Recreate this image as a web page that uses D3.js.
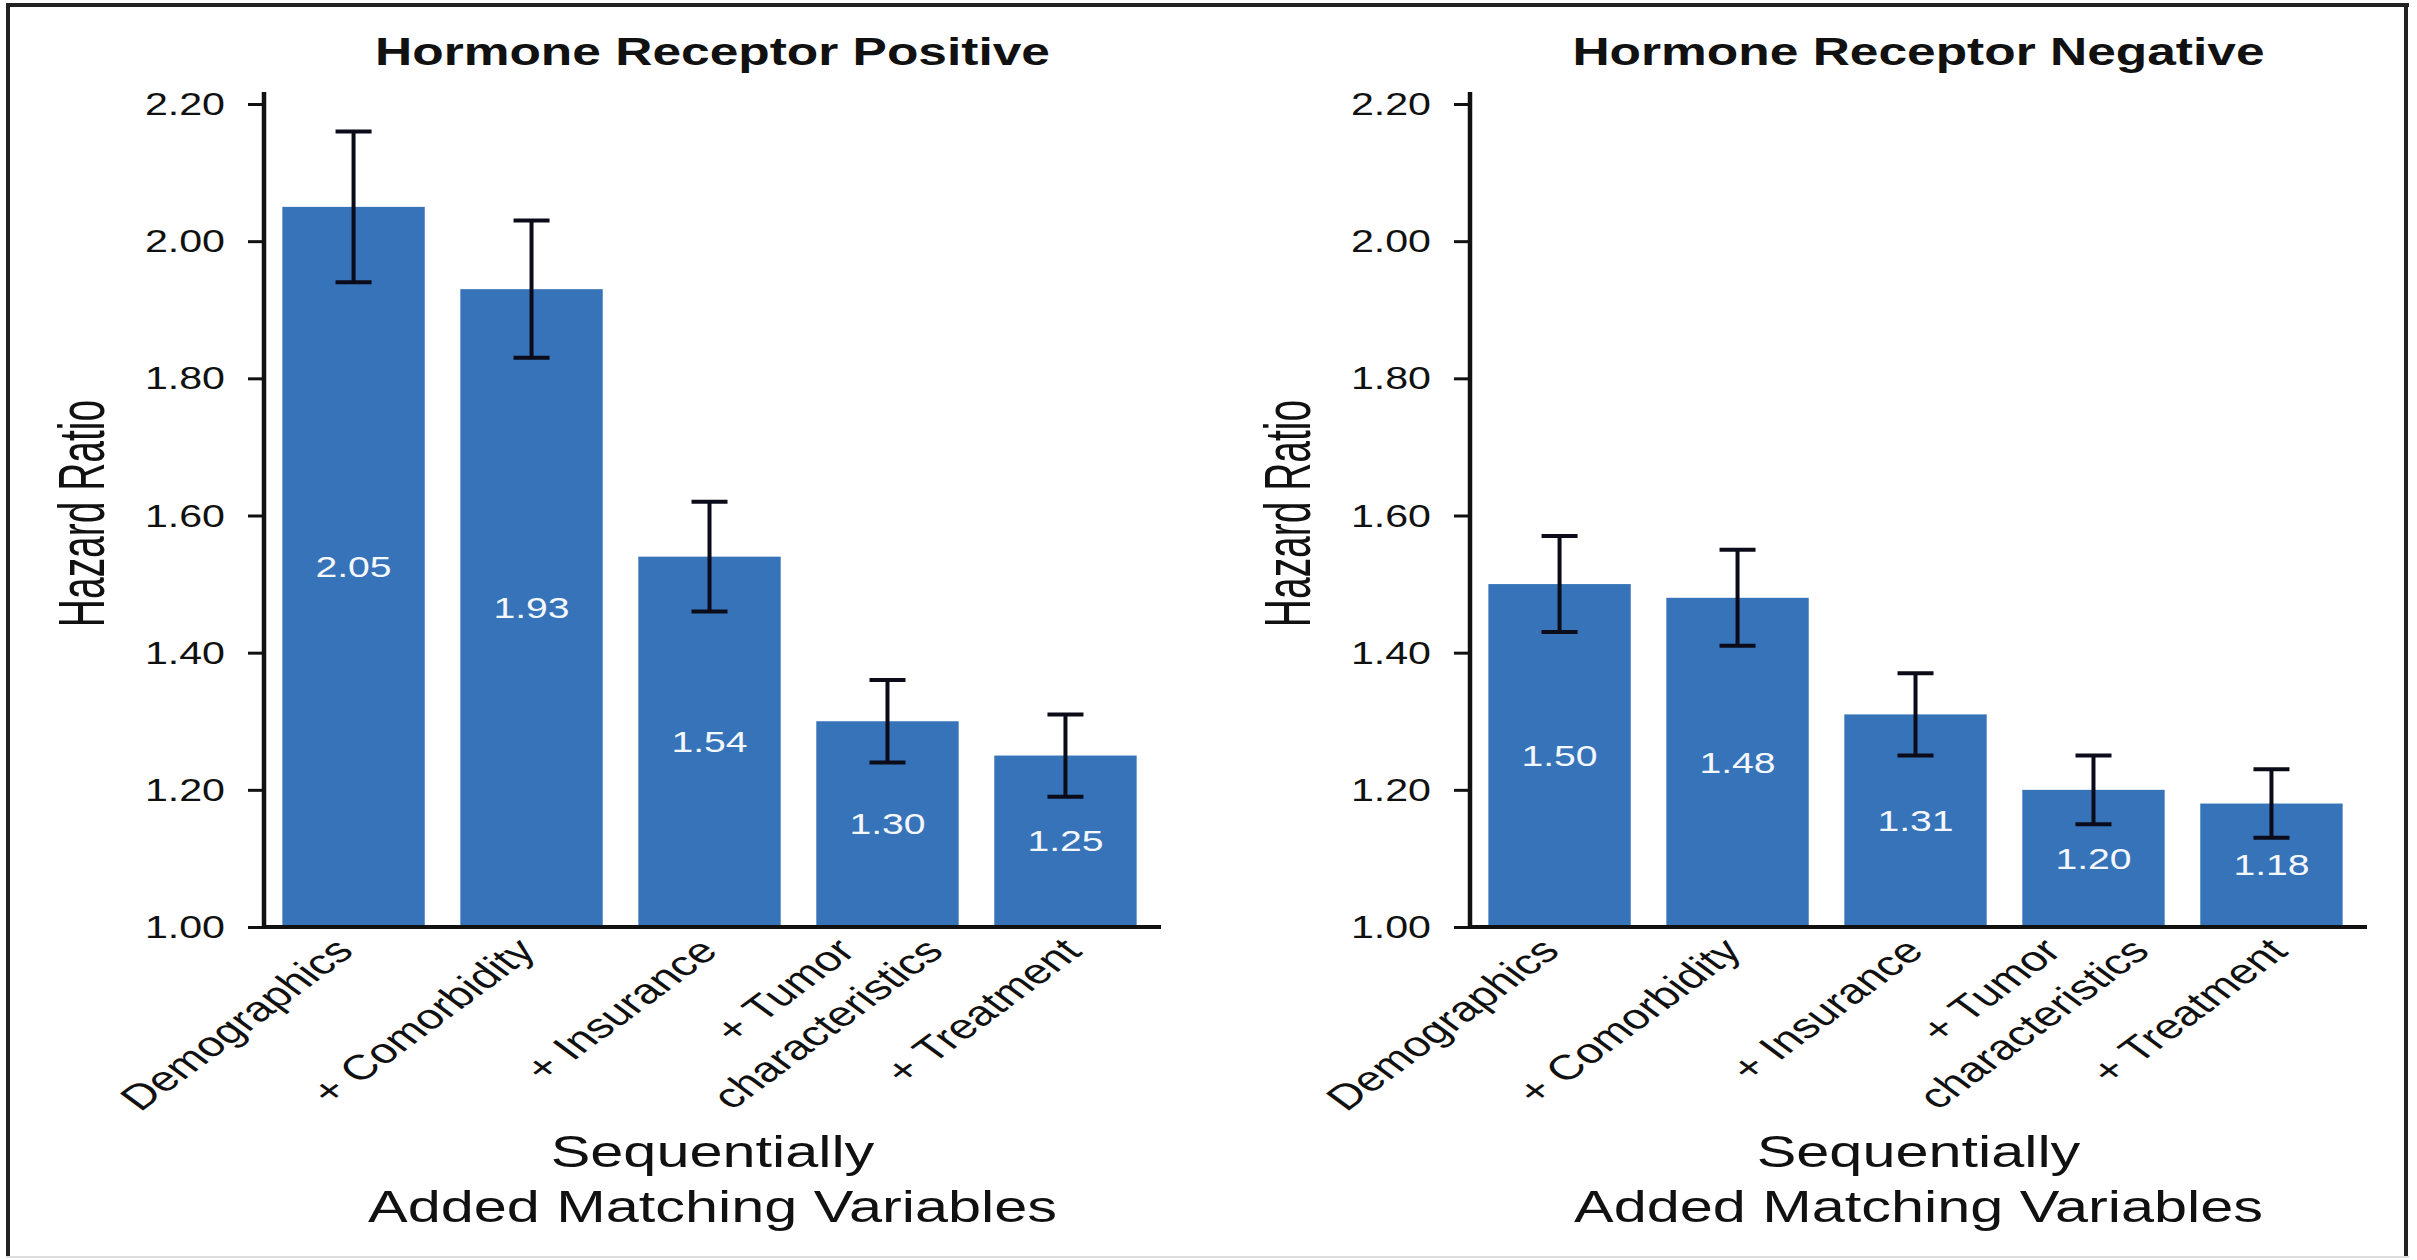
<!DOCTYPE html>
<html>
<head>
<meta charset="utf-8">
<script src="https://cdn.jsdelivr.net/npm/d3@7"></script>
<style>
  html, body { margin: 0; padding: 0; background: #ffffff; }
  svg { display: block; }
  text { font-family: "Liberation Sans", Arial, Helvetica, sans-serif; }
</style>
</head>
<body>
<svg id="chart" width="2417" height="1260"></svg>
<script>
// ---------------- DATA ----------------
const categories = ["Demographics", "+ Comorbidity", "+ Insurance", "+ Tumor characteristics", "+ Treatment"];
const categoryLines = [["Demographics"], ["+ Comorbidity"], ["+ Insurance"], ["+ Tumor", "characteristics"], ["+ Treatment"]];
const panelTitles = ["Hormone Receptor Positive", "Hormone Receptor Negative"];
const hrPositive = [2.05, 1.93, 1.54, 1.30, 1.25];
const ciLowPositive = [1.94, 1.83, 1.46, 1.24, 1.19];
const ciHighPositive = [2.16, 2.03, 1.62, 1.36, 1.31];
const hrNegative = [1.50, 1.48, 1.31, 1.20, 1.18];
const ciLowNegative = [1.43, 1.41, 1.25, 1.15, 1.13];
const ciHighNegative = [1.57, 1.55, 1.37, 1.25, 1.23];
const yTicks = [1.00, 1.20, 1.40, 1.60, 1.80, 2.00, 2.20];
const yDomain = [1.00, 2.20];
const yAxisTitle = "Hazard Ratio";
const xAxisTitleLines = ["Sequentially", "Added Matching Variables"];

// ---------------- STYLE / LAYOUT ----------------
const W = 2417, H = 1260;
const K = 1.35;            // horizontal stretch of the original artwork
const BAR = "#3673b9";
const INK = "#111111";
const panelOffsets = [0, 1206];
const axisLeftX = 264, axisRightX = 1161;
const yTop = 104, yBottom = 927;

const svg = d3.select("#chart");
svg.append("rect").attr("width", W).attr("height", H).attr("fill", "#fff");

// frame
svg.append("line").attr("x1", 6).attr("x2", 2409).attr("y1", 5).attr("y2", 5).attr("stroke", "#222").attr("stroke-width", 4);
svg.append("line").attr("x1", 8).attr("x2", 8).attr("y1", 3).attr("y2", 1258).attr("stroke", "#222").attr("stroke-width", 4);
svg.append("line").attr("x1", 2406).attr("x2", 2406).attr("y1", 3).attr("y2", 1258).attr("stroke", "#222").attr("stroke-width", 4);
svg.append("line").attr("x1", 6).attr("x2", 2409).attr("y1", 1257).attr("y2", 1257).attr("stroke", "#ddd").attr("stroke-width", 2);

const panels = [
  { title: panelTitles[0], hr: hrPositive, lo: ciLowPositive, hi: ciHighPositive },
  { title: panelTitles[1], hr: hrNegative, lo: ciLowNegative, hi: ciHighNegative }
];

panels.forEach((p, pi) => {
  const off = panelOffsets[pi];
  const g = svg.append("g");
  const x = d3.scaleBand().domain(categories)
    .range([axisLeftX + off, axisRightX + off])
    .paddingInner(0.2).paddingOuter(0.12).align(0.43);
  const y = d3.scaleLinear().domain(yDomain).range([yBottom, yTop]);
  const data = categories.map((c, i) => ({ c, lines: categoryLines[i], v: p.hr[i], lo: p.lo[i], hi: p.hi[i], i }));

  // bars
  g.selectAll("rect.bar").data(data).enter().append("rect")
    .attr("class", "bar")
    .attr("x", d => x(d.c))
    .attr("width", x.bandwidth())
    .attr("y", d => y(d.v))
    .attr("height", d => y(yDomain[0]) - y(d.v))
    .attr("fill", BAR);

  // value labels
  g.selectAll("text.val").data(data).enter().append("text")
    .attr("class", "val")
    .attr("transform", d => `translate(${x(d.c) + x.bandwidth() / 2},${(y(d.v) + y(yDomain[0])) / 2}) scale(${K},1)`)
    .attr("text-anchor", "middle")
    .attr("dominant-baseline", "central")
    .attr("font-size", 29)
    .attr("fill", "#f4f7fc")
    .text(d => d.v.toFixed(2));

  // error bars
  const cap = 18;
  const eg = g.selectAll("g.err").data(data).enter().append("g").attr("class", "err")
    .attr("stroke", "#0b0b1a").attr("stroke-width", 4);
  eg.append("line")
    .attr("x1", d => x(d.c) + x.bandwidth() / 2).attr("x2", d => x(d.c) + x.bandwidth() / 2)
    .attr("y1", d => y(d.lo)).attr("y2", d => y(d.hi));
  eg.append("line")
    .attr("x1", d => x(d.c) + x.bandwidth() / 2 - cap).attr("x2", d => x(d.c) + x.bandwidth() / 2 + cap)
    .attr("y1", d => y(d.hi)).attr("y2", d => y(d.hi));
  eg.append("line")
    .attr("x1", d => x(d.c) + x.bandwidth() / 2 - cap).attr("x2", d => x(d.c) + x.bandwidth() / 2 + cap)
    .attr("y1", d => y(d.lo)).attr("y2", d => y(d.lo));

  // y axis
  const ax = g.append("g").attr("transform", `translate(${axisLeftX + off},0)`)
    .call(d3.axisLeft(y).tickValues(yTicks).tickSize(16).tickSizeOuter(0).tickFormat(d3.format(".2f")));
  ax.select(".domain").remove();
  ax.selectAll(".tick line").attr("stroke", INK).attr("stroke-width", 3);
  ax.selectAll(".tick text")
    .attr("x", null).attr("dy", null)
    .attr("transform", `translate(-39,0) scale(${K},1)`)
    .attr("text-anchor", "end")
    .attr("dominant-baseline", "central")
    .attr("font-size", 30.5)
    .attr("fill", INK);
  g.append("line").attr("x1", axisLeftX + off).attr("x2", axisLeftX + off)
    .attr("y1", yTop - 12).attr("y2", yBottom + 2)
    .attr("stroke", INK).attr("stroke-width", 4.5);
  // x axis line
  g.append("line").attr("x1", axisLeftX + off - 2).attr("x2", axisRightX + off)
    .attr("y1", yBottom).attr("y2", yBottom)
    .attr("stroke", INK).attr("stroke-width", 4);

  // x category labels (rotated)
  data.forEach(d => {
    const cx = x(d.c) + x.bandwidth() / 2 + 2 + 4 * d.i;
    const n = d.lines.length;
    d.lines.forEach((ln, li) => {
      g.append("text")
        .attr("transform", `translate(${cx + (li - (n - 1) / 2) * 88},${yBottom + 26}) scale(${K},1) rotate(-45)`)
        .attr("text-anchor", "end")
        .attr("font-size", 35)
        .attr("fill", INK)
        .text(ln);
    });
  });

  // panel title
  const midX = (axisLeftX + axisRightX) / 2 + off;
  g.append("text")
    .attr("transform", `translate(${midX},65) scale(1.32,1)`)
    .attr("text-anchor", "middle")
    .attr("font-size", 39)
    .attr("font-weight", "bold")
    .attr("fill", INK)
    .text(p.title);

  // y axis title
  g.append("text")
    .attr("transform", `translate(${axisLeftX + off - 160},${(yTop + yBottom) / 2 - 2}) scale(${K},1) rotate(-90) scale(0.82,1)`)
    .attr("text-anchor", "middle")
    .attr("font-size", 47.5)
    .attr("fill", INK)
    .text(yAxisTitle);

  // x axis title
  xAxisTitleLines.forEach((t, ti) => {
    g.append("text")
      .attr("transform", `translate(${midX},${1167 + ti * 55}) scale(${K},1)`)
      .attr("text-anchor", "middle")
      .attr("font-size", 44)
      .attr("fill", INK)
      .text(t);
  });
});
</script>
</body>
</html>
